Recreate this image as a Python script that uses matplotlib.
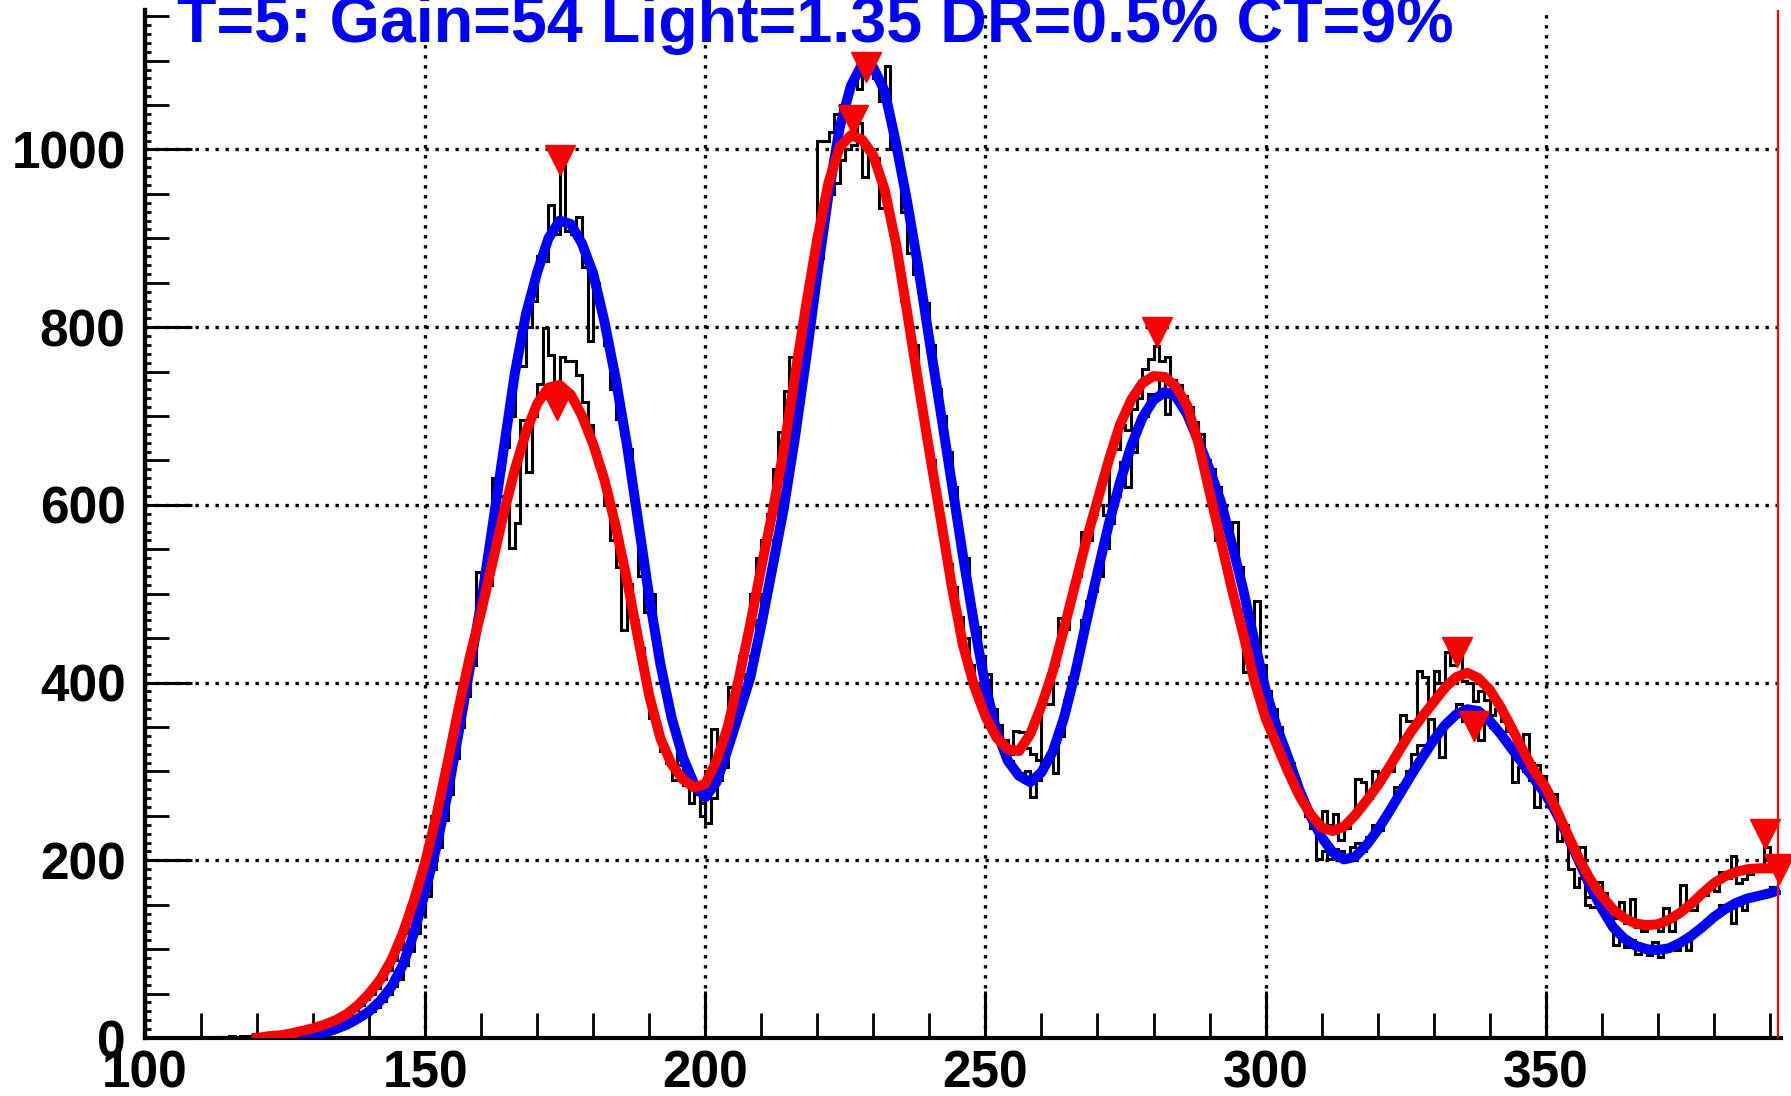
import numpy as np
import matplotlib
matplotlib.use('Agg')
from matplotlib import pyplot as plt
from matplotlib.ticker import MultipleLocator

plt.rcParams['font.family'] = ['Liberation Sans', 'DejaVu Sans']
plt.rcParams['font.weight'] = 'bold'

title = "T=5: Gain=54 Light=1.35 DR=0.5% CT=9%"

# histogram bins are 1 unit wide starting at 100
hist_a = [
    0, 0, 0, 0, 0, 0, 0, 0, 0, 0,
    0, 0, 0, 1, 0, 1, 0, 1, 1, 0,
    1, 0, 1, 1, 2, 1, 2, 3, 2, 3,
    4, 5, 6, 8, 10, 12, 15, 19, 22, 25,
    30, 35, 42, 50, 58, 66, 82, 98, 118, 140,
    160, 190, 215, 245, 275, 315, 350, 385, 420, 492,
    500, 540, 600, 640, 665, 700, 760, 756, 800, 830,
    880, 875, 937, 905, 985, 908, 905, 924, 868, 785,
    850, 820, 780, 730, 697, 680, 663, 600, 520, 480,
    500, 440, 400, 370, 346, 307, 300, 290, 275, 265,
    242, 270, 290, 320, 340, 360, 395, 410, 430, 470,
    500, 520, 560, 610, 680, 700, 760, 800, 850, 880,
    1010, 1010, 1020, 1040, 1050, 1060, 1080, 1068, 1090, 1105,
    1080, 1055, 1094, 1000, 985, 930, 883, 860, 840, 827,
    780, 730, 700, 660, 620, 560, 540, 480, 463, 430,
    403, 370, 352, 320, 312, 300, 298, 300, 271, 290,
    310, 320, 298, 340, 380, 406, 430, 470, 492, 503,
    520, 551, 580, 610, 648, 620, 660, 690, 700, 725,
    723, 740, 702, 730, 725, 723, 705, 693, 680, 650,
    640, 620, 600, 570, 581, 530, 480, 460, 492, 420,
    390, 370, 350, 322, 310, 292, 270, 250, 236, 201,
    210, 201, 213, 210, 205, 215, 220, 211, 226, 240,
    234, 250, 260, 282, 285, 300, 320, 330, 330, 359,
    340, 316, 355, 360, 376, 357, 360, 357, 335, 363,
    350, 345, 338, 330, 288, 305, 300, 290, 260, 295,
    270, 260, 222, 230, 190, 170, 180, 150, 148, 150,
    140, 135, 105, 115, 103, 110, 95, 100, 93, 108,
    91, 100, 105, 99, 110, 99, 120, 125, 130, 135,
    140, 150, 145, 129, 150, 144, 155, 159, 160, 165,
    170, 165,
]

hist_b = [
    0, 0, 0, 0, 0, 0, 0, 0, 0, 0,
    0, 0, 0, 1, 1, 2, 1, 2, 2, 3,
    2, 3, 3, 4, 5, 5, 6, 8, 9, 10,
    11, 13, 15, 18, 20, 24, 27, 32, 37, 44,
    50, 56, 66, 76, 88, 100, 118, 134, 160, 190,
    200, 250, 245, 285, 300, 340, 365, 400, 420, 525,
    500, 510, 630, 610, 600, 551, 580, 696, 637, 700,
    736, 799, 769, 736, 766, 762, 762, 746, 716, 690,
    660, 640, 600, 560, 530, 459, 511, 470, 439, 400,
    360, 350, 323, 310, 290, 300, 285, 264, 280, 250,
    300, 348, 330, 305, 395, 380, 430, 450, 500, 540,
    560, 590, 640, 682, 728, 766, 770, 790, 825, 850,
    878, 930, 950, 962, 988, 1000, 1005, 1030, 969, 1000,
    990, 934, 936, 905, 880, 830, 800, 780, 719, 680,
    650, 600, 568, 534, 508, 474, 450, 420, 400, 380,
    410, 360, 345, 335, 320, 346, 344, 326, 320, 313,
    376, 376, 420, 473, 460, 500, 520, 570, 560, 590,
    600, 589, 663, 663, 690, 684, 708, 720, 753, 764,
    779, 762, 766, 740, 735, 720, 710, 680, 660, 630,
    600, 560, 540, 520, 490, 470, 412, 430, 400, 380,
    360, 345, 330, 310, 300, 280, 270, 255, 245, 240,
    255, 240, 252, 223, 236, 250, 292, 288, 270, 300,
    288, 300, 300, 320, 363, 357, 357, 413, 406, 380,
    413, 400, 434, 420, 435, 402, 400, 379, 390, 380,
    363, 370, 357, 345, 342, 320, 342, 310, 307, 290,
    278, 275, 250, 240, 215, 210, 215, 159, 175, 176,
    163, 150, 135, 153, 130, 157, 125, 120, 130, 125,
    120, 146, 121, 140, 172, 150, 144, 160, 161, 170,
    166, 187, 180, 205, 175, 179, 185, 190, 195, 215,
    204, 192,
]

blue_x = [120, 122, 124, 126, 128, 130, 132, 134, 136, 138,
          140, 142, 144, 146, 148, 150, 152, 154, 156, 158,
          160, 162, 164, 166, 168, 170, 172, 174, 176, 178,
          180, 182, 184, 186, 188, 190, 192, 194, 196, 198,
          200, 202, 204, 206, 208, 210, 212, 214, 216, 218,
          220, 222, 224, 226, 228, 230, 232, 234, 236, 238,
          240, 242, 244, 246, 248, 250, 252, 254, 256, 258,
          260, 262, 264, 266, 268, 270, 272, 274, 276, 278,
          280, 282, 284, 286, 288, 290, 292, 294, 296, 298,
          300, 302, 304, 306, 308, 310, 312, 314, 316, 318,
          320, 322, 324, 326, 328, 330, 332, 334, 336, 338,
          340, 342, 344, 346, 348, 350, 352, 354, 356, 358,
          360, 362, 364, 366, 368, 370, 372, 374, 376, 378,
          380, 382, 384, 386, 388, 390, 391]
blue_y = [0, 0, 0, 1, 2, 3, 6, 10, 15, 22,
          30, 42, 58, 82, 118, 165, 215, 275, 345, 418,
          490, 575, 662, 748, 815, 862, 900, 920, 916, 894,
          860, 806, 742, 668, 582, 496, 420, 360, 316, 286,
          271, 288, 325, 365, 405, 465, 530, 596, 676, 765,
          860, 950, 1025, 1072, 1096, 1092, 1066, 1008, 942, 868,
          785, 705, 624, 542, 465, 396, 345, 312, 295, 288,
          299, 322, 360, 410, 468, 524, 578, 625, 666, 698,
          718, 727, 722, 702, 672, 640, 604, 556, 505, 447,
          392, 350, 316, 280, 250, 226, 209, 201, 204, 217,
          234, 254, 275, 296, 316, 335, 352, 364, 370, 368,
          357, 342, 325, 308, 291, 274, 252, 226, 198, 170,
          146, 125, 112, 104, 100, 99, 101, 107, 115, 125,
          136, 145, 152, 157, 160, 163, 165]

red_x = [120, 122, 124, 126, 128, 130, 132, 134, 136, 138,
         140, 142, 144, 146, 148, 150, 152, 154, 156, 158,
         160, 162, 164, 166, 168, 170, 172, 174, 176, 178,
         180, 182, 184, 186, 188, 190, 192, 194, 196, 198,
         200, 202, 204, 206, 208, 210, 212, 214, 216, 218,
         220, 222, 224, 226, 228, 230, 232, 234, 236, 238,
         240, 242, 244, 246, 248, 250, 252, 254, 256, 258,
         260, 262, 264, 266, 268, 270, 272, 274, 276, 278,
         280, 282, 284, 286, 288, 290, 292, 294, 296, 298,
         300, 302, 304, 306, 308, 310, 312, 314, 316, 318,
         320, 322, 324, 326, 328, 330, 332, 334, 336, 338,
         340, 342, 344, 346, 348, 350, 352, 354, 356, 358,
         360, 362, 364, 366, 368, 370, 372, 374, 376, 378,
         380, 382, 384, 386, 388, 390, 392]
red_y = [0, 2, 3, 5, 8, 11, 15, 20, 27, 37,
         50, 66, 88, 118, 155, 198, 250, 310, 372, 430,
         480, 535, 590, 640, 682, 714, 732, 735, 724, 700,
         668, 628, 576, 516, 450, 385, 337, 308, 291, 282,
         286, 312, 350, 405, 465, 530, 592, 662, 745, 825,
         900, 963, 1003, 1016, 1011, 993, 955, 895, 818, 738,
         660, 585, 508, 442, 396, 362, 338, 325, 323, 342,
         374, 412, 460, 510, 560, 605, 650, 690, 718, 737,
         745, 744, 733, 712, 670, 615, 560, 505, 455, 402,
         360, 330, 300, 273, 252, 237, 233, 238, 251, 267,
         284, 304, 325, 345, 362, 378, 394, 406, 411, 405,
         392, 372, 348, 323, 300, 282, 256, 228, 201, 178,
         160, 145, 135, 129, 127, 128, 133, 141, 151, 163,
         174, 182, 187, 190, 191, 191, 191]

peak_x = [174.1, 173.5, 228.6, 226.3, 280.6, 334.1, 337.2, 389.1, 391.6]
peak_y = [988, 712, 1093, 1033, 795, 435, 351, 230, 190]

cut_x = 391.5

fig = plt.figure(figsize=(17.91, 10.96), dpi=100)
ax = fig.add_axes([0.081, 0.0529, 0.9944 - 0.081, 0.9909 - 0.0529])

edges = np.arange(100, 100 + len(hist_a) + 1)
ax.stairs(hist_a, edges, baseline=None, color='black', lw=2.2, zorder=2)
ax.stairs(hist_b, edges, baseline=None, color='black', lw=2.2, zorder=2)
ax.plot(blue_x, blue_y, color=(0, 0, 1), lw=7.2, zorder=3)
ax.plot(red_x, red_y, color=(1, 0, 0), lw=7.2, zorder=4)
ax.plot(peak_x, peak_y, 'v', color=(1, 0, 0), ms=21, zorder=5, clip_on=False)
ax.axvline(cut_x, color=(1, 0, 0), lw=1.6, zorder=5)

ax.set_xlim(100, 392)
ax.set_ylim(0, 1157)
ax.xaxis.set_major_locator(MultipleLocator(50))
ax.xaxis.set_minor_locator(MultipleLocator(10))
ax.yaxis.set_major_locator(MultipleLocator(200))
ax.yaxis.set_minor_locator(MultipleLocator(50))

ax.grid(True, which='major', color='black', linestyle=(0, (1, 2)), lw=2.4)
ax.set_axisbelow(True)

for s in ('top', 'right'):
    ax.spines[s].set_visible(False)
for s in ('left', 'bottom'):
    ax.spines[s].set_linewidth(3)

ax.tick_params(which='major', direction='in', length=34, width=2.2,
               labelsize=37)
ax.tick_params(axis='y', which='major', pad=14)
ax.tick_params(axis='x', which='major', pad=8)
ax.tick_params(axis='y', which='minor', direction='in', length=17, width=2)
ax.tick_params(axis='x', which='minor', direction='in', length=18, width=2)

sec = ax.secondary_yaxis('left')
sec.yaxis.set_major_locator(MultipleLocator(10))
sec.tick_params(direction='in', length=4, width=2, labelleft=False)
sec.spines['left'].set_linewidth(3)

fig.text(0.099, 0.962, title, color=(0, 0, 1), fontsize=46.5,
         fontweight='bold', ha='left', va='baseline')

fig.savefig('out.png', dpi=100)
